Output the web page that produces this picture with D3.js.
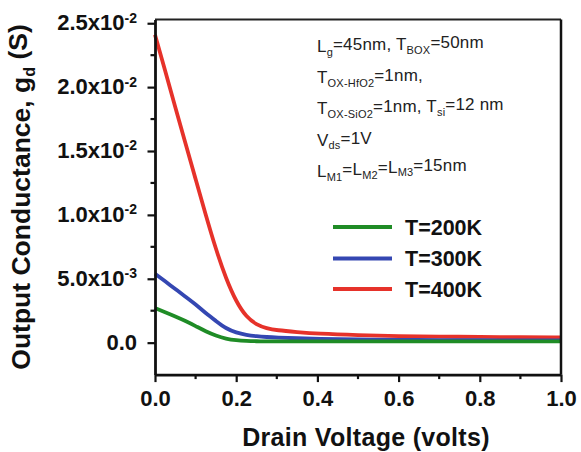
<!DOCTYPE html>
<html>
<head>
<meta charset="utf-8">
<script src="https://cdn.jsdelivr.net/npm/d3@7"></script>
<style>
  html, body { margin: 0; padding: 0; background: #fff; }
  svg { display: block; }
  text { font-family: "Liberation Sans", Arial, sans-serif; }
</style>
</head>
<body>
<svg id="chart" width="581" height="452"></svg>
<script>
// Drain voltage samples (V)
const voltage = [0, 0.025, 0.05, 0.075, 0.1, 0.125, 0.15, 0.175, 0.2, 0.225, 0.25, 0.275, 0.3, 0.35, 0.4, 0.5, 0.6, 0.7, 0.8, 0.9, 1.0];

// Output conductance g_d (S) per temperature
const gd200K = [0.0027, 0.00238, 0.00205, 0.0017, 0.0013, 0.00088, 0.00055, 0.0003, 0.00018, 0.00013, 0.00011, 0.0001, 0.0001, 0.0001, 0.0001, 0.0001, 0.0001, 0.0001, 0.0001, 0.0001, 0.0001];
const gd300K = [0.0054, 0.0048, 0.0042, 0.0036, 0.0030, 0.0023, 0.0017, 0.0011, 0.00078, 0.0006, 0.0005, 0.00044, 0.0004, 0.00034, 0.0003, 0.00025, 0.00022, 0.0002, 0.00019, 0.00018, 0.00017];
const gd400K = [0.0241, 0.0213, 0.0184, 0.0156, 0.0128, 0.0100, 0.0073, 0.0050, 0.0032, 0.0020, 0.0014, 0.00112, 0.00097, 0.00083, 0.0007, 0.00058, 0.0005, 0.00047, 0.00045, 0.00043, 0.00041];

const seriesNames = ["T=200K", "T=300K", "T=400K"];
const seriesColors = ["#1f8c26", "#3447b2", "#e6322a"];

// Axis ticks
const xMajorTicks = [0, 0.2, 0.4, 0.6, 0.8, 1.0];
const xMinorTicks = [0.1, 0.3, 0.5, 0.7, 0.9];
const xTickLabels = ["0.0", "0.2", "0.4", "0.6", "0.8", "1.0"];
const yMajorTicks = [0, 0.005, 0.01, 0.015, 0.02, 0.025];
const yMinorTicks = [0.0025, 0.0075, 0.0125, 0.0175, 0.0225];
const yTickMantissa = ["0.0", "5.0x10", "1.0x10", "1.5x10", "2.0x10", "2.5x10"];
const yTickExponent = ["", "-3", "-2", "-2", "-2", "-2"];

// Device parameters listed in the corner; each line is [text, isSubscript] runs
const paramLines = [
  [["L", 0], ["g", 1], ["=45nm, T", 0], ["BOX", 1], ["=50nm", 0]],
  [["T", 0], ["OX-HfO2", 1], ["=1nm,", 0]],
  [["T", 0], ["OX-SiO2", 1], ["=1nm, T", 0], ["si", 1], ["=12 nm", 0]],
  [["V", 0], ["ds", 1], ["=1V", 0]],
  [["L", 0], ["M1", 1], ["=L", 0], ["M2", 1], ["=L", 0], ["M3", 1], ["=15nm", 0]]
];

const svg = d3.select("#chart");
const plot = { left: 155, right: 561, top: 19.4, bottom: 374.6 };

const x = d3.scaleLinear().domain([0, 1]).range([plot.left, plot.right]);
const y = d3.scaleLinear().domain([-0.0025, 0.0253]).range([plot.bottom, plot.top]);

// Curves (400K first so the low-temperature lines sit on top)
const line = d3.line().x((d, i) => x(voltage[i])).y(d => y(d)).curve(d3.curveBasis);
const allSeries = [gd200K, gd300K, gd400K];
[2, 1, 0].forEach(k => {
  svg.append("path")
    .attr("d", line(allSeries[k]))
    .attr("fill", "none")
    .attr("stroke", seriesColors[k])
    .attr("stroke-width", 3.8)
    .attr("stroke-linejoin", "round");
});

// Frame: top and right borders
svg.append("line").attr("x1", plot.left).attr("x2", plot.right).attr("y1", plot.top).attr("y2", plot.top)
  .attr("stroke", "#222").attr("stroke-width", 2);
svg.append("line").attr("x1", plot.right).attr("x2", plot.right).attr("y1", plot.top).attr("y2", plot.bottom)
  .attr("stroke", "#111").attr("stroke-width", 2.5);

// X axis
const xAxis = svg.append("g").attr("transform", `translate(0,${plot.bottom})`)
  .call(d3.axisBottom(x).tickValues(xMajorTicks).tickSizeInner(7.5).tickSizeOuter(0)
    .tickPadding(8).tickFormat((d, i) => xTickLabels[i]));
xAxis.append("g").selectAll("line").data(xMinorTicks).join("line")
  .attr("x1", d => x(d)).attr("x2", d => x(d)).attr("y1", 0).attr("y2", 4.5)
  .attr("stroke", "#111").attr("stroke-width", 2.2);

// Y axis
const yAxis = svg.append("g").attr("transform", `translate(${plot.left},0)`)
  .call(d3.axisLeft(y).tickValues(yMajorTicks).tickSizeInner(7.5).tickSizeOuter(0)
    .tickPadding(12).tickFormat(() => ""));
yAxis.append("g").selectAll("line").data(yMinorTicks).join("line")
  .attr("x1", 0).attr("x2", -4.5).attr("y1", d => y(d)).attr("y2", d => y(d))
  .attr("stroke", "#111").attr("stroke-width", 2.2);

[xAxis, yAxis].forEach(g => {
  g.select(".domain").attr("stroke", "#111").attr("stroke-width", 2.8);
  g.selectAll(".tick line").attr("stroke", "#111").attr("stroke-width", 2.2);
  g.selectAll("text").attr("fill", "#111").style("font-weight", "bold")
    .style("font-size", "22px").style("font-family", "'Liberation Sans', Arial, sans-serif");
});

// Y tick labels with powers of ten
yAxis.selectAll(".tick").each(function (d, i) {
  const t = d3.select(this).select("text");
  t.text(null).attr("x", -18).attr("dy", "0.3em");
  t.append("tspan").text(yTickMantissa[i]);
  if (yTickExponent[i]) {
    t.append("tspan").text(yTickExponent[i]).attr("dy", "-0.55em").style("font-size", "14px");
  }
});
yAxis.selectAll(".tick text").attr("text-anchor", "end");

// Axis titles
svg.append("text")
  .attr("x", 366).attr("y", 446)
  .attr("text-anchor", "middle")
  .style("font-weight", "bold").style("font-size", "25px").style("letter-spacing", "0.3px").attr("fill", "#111")
  .text("Drain Voltage (volts)");

const yTitle = svg.append("text")
  .attr("transform", "translate(30,197) rotate(-90)")
  .attr("text-anchor", "middle")
  .style("font-weight", "bold").style("font-size", "26.5px").attr("fill", "#111");
yTitle.append("tspan").text("Output Conductance, g");
yTitle.append("tspan").text("d").attr("dy", "0.3em").style("font-size", "16px");
yTitle.append("tspan").text(" (S)").attr("dy", "-0.3em");

// Parameter block
paramLines.forEach((runs, li) => {
  const t = svg.append("text")
    .attr("x", 317).attr("y", 52 + li * 31.2)
    .style("font-size", "17px").style("letter-spacing", "0.2px").attr("fill", "#222");
  let sub = false;
  runs.forEach(([s, isSub]) => {
    const ts = t.append("tspan").text(s);
    if (isSub && !sub) { ts.attr("dy", "0.35em").style("font-size", "11px"); sub = true; }
    else if (!isSub && sub) { ts.attr("dy", "-0.35em"); sub = false; }
    else if (isSub) { ts.style("font-size", "11px"); }
  });
});

// Legend
const legendY = [227, 258.5, 289];
seriesNames.forEach((name, i) => {
  svg.append("line")
    .attr("x1", 333).attr("x2", 392).attr("y1", legendY[i]).attr("y2", legendY[i])
    .attr("stroke", seriesColors[i]).attr("stroke-width", 3.8);
  svg.append("text")
    .attr("x", 405).attr("y", legendY[i] + 7.5)
    .style("font-weight", "bold").style("font-size", "21.5px").attr("fill", "#111")
    .text(name);
});
</script>
</body>
</html>
